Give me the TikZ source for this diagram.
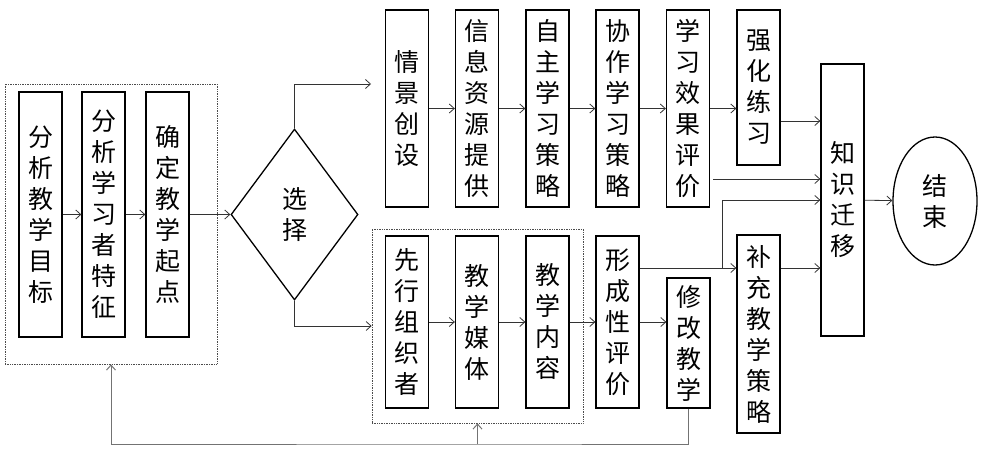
\documentclass[tikz,border=0pt]{standalone}
\usepackage{fontspec}
\newfontfamily\cjk{Noto Sans CJK SC}
\usetikzlibrary{shapes.geometric,arrows.meta,calc}

\begin{document}
\begin{tikzpicture}[x=1pt,y=-1pt,
  box/.style={draw,line width=1.3pt,minimum width=43pt,inner sep=0pt,align=center,font=\cjk\fontsize{25}{31}\selectfont},
  groupbox/.style={draw,densely dotted,line width=0.7pt,black!70},
  conn/.style={line width=0.8pt,black!80,-{Straight Barb[length=5pt,width=9pt]}},
  back/.style={line width=1pt,black!55,-{Straight Barb[length=5pt,width=9pt]}}]
\useasboundingbox (0,0) rectangle (984,460);
\node[groupbox,minimum width=212pt,minimum height=280pt] (prep) at (111,224) {};
\node[groupbox,minimum width=211pt,minimum height=194pt] (media) at (477.5,326) {};
\node[box,minimum height=245pt] (goal) at (40.5,214.5) {分\\析\\教\\学\\目\\标};
\node[box,minimum height=245pt] (learner) at (103.5,214.5) {分\\析\\学\\习\\者\\特\\征};
\node[box,minimum height=245pt] (start) at (167.5,214.5) {确\\定\\教\\学\\起\\点};
\node[draw,line width=1.3pt,shape=diamond,minimum width=127pt,minimum height=171pt,inner sep=0pt,font=\cjk\fontsize{25}{31}\selectfont,align=center] (choose) at (294.5,214.5) {选\\择};
\node[box,minimum height=197pt] (scene) at (407,108.5) {情\\景\\创\\设};
\node[box,minimum height=197pt] (resource) at (477,108.5) {信\\息\\资\\源\\提\\供};
\node[box,minimum height=197pt] (self) at (547.5,108.5) {自\\主\\学\\习\\策\\略};
\node[box,minimum height=197pt] (coop) at (617.5,108.5) {协\\作\\学\\习\\策\\略};
\node[box,minimum height=197pt] (effect) at (688,108.5) {学\\习\\效\\果\\评\\价};
\node[box,minimum height=155pt] (drill) at (758.5,87.5) {强\\化\\练\\习};
\node[box,minimum height=172pt] (organizer) at (407,322) {先\\行\\组\\织\\者};
\node[box,minimum height=172pt] (medium) at (477,322) {教\\学\\媒\\体};
\node[box,minimum height=172pt] (content) at (547.5,322) {教\\学\\内\\容};
\node[box,minimum height=172pt] (formative) at (617.5,322) {形\\成\\性\\评\\价};
\node[box,minimum height=130pt] (revise) at (688.5,343) {修\\改\\教\\学};
\node[box,minimum height=198pt] (extra) at (758.5,334) {补\\充\\教\\学\\策\\略};
\node[box,minimum height=272pt] (transfer) at (842.5,200) {知\\识\\迁\\移};
\node[draw,line width=1.3pt,shape=ellipse,minimum width=84pt,minimum height=128pt,inner sep=0pt,font=\cjk\fontsize{25}{31}\selectfont,align=center] (finish) at (935,201) {结\\束};
\coordinate (toptip) at (371,84);
\coordinate (fork) at (722,268);
\coordinate (loop) at (477.5,444);

\draw[conn] (goal) -- (learner);
\draw[conn] (learner) -- (start);
\draw[conn] (start) -- (choose);
\draw[conn] (choose.north) |- (toptip);
\draw[conn] (choose.south) |- (media.west);
\draw[conn] (scene) -- (resource);
\draw[conn] (resource) -- (self);
\draw[conn] (self) -- (coop);
\draw[conn] (coop) -- (effect);
\draw[conn] (effect.east) -- (drill.west |- effect.east);
\draw[conn] ($(drill.east)+(0,33.5)$) -- ($(transfer.west |- drill.east)+(0,33.5)$);
\draw[conn] ($(effect.east)+(3,70.5)$) -- ($(transfer.west |- effect.east)+(0,70.5)$);
\draw[conn] (organizer) -- (medium);
\draw[conn] (medium) -- (content);
\draw[conn] (content) -- (formative);
\draw[conn] (formative.east) -- (revise.west |- formative.east);
\draw[conn] ($(formative.east)+(0,-54)$) -- (extra.west |- fork);
\draw[conn] (fork) |- (transfer.west);
\draw[conn] (extra.east |- fork) -- (transfer.west |- fork);
\draw[conn] (transfer) -- (finish);
\draw[back] (revise.south) |- (loop) -| (prep.south);
\draw[back] (loop) -- (media.south);
\end{tikzpicture}
\end{document}
